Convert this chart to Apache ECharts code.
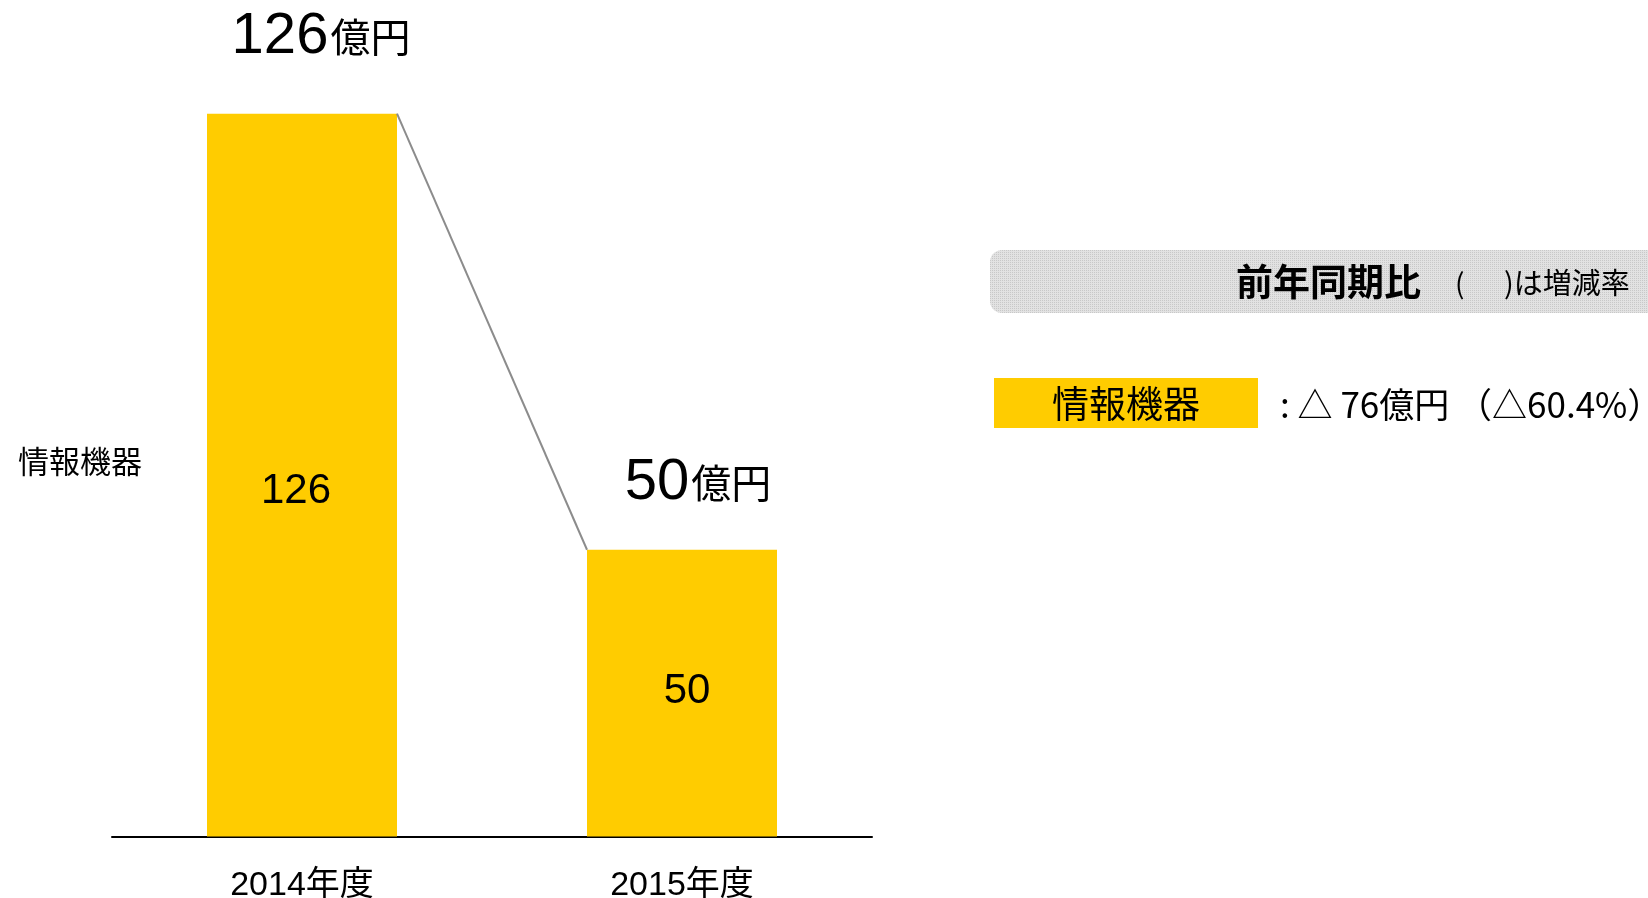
<!DOCTYPE html>
<html>
<head>
<meta charset="utf-8">
<script src="https://cdn.jsdelivr.net/npm/echarts@6/dist/echarts.min.js"></script>
<style>
html,body{margin:0;padding:0;background:#fff;}
#c{width:1648px;height:898px;}
</style>
</head>
<body>
<div id="c"></div>
<script>
// ---- data ----
var categories = ['2014年度', '2015年度'];
var values = [126, 50];
var unit = '億円';
var seriesName = '情報機器';
var headerTitle = '前年同期比';
var headerNoteOpen = '(';
var headerNoteClose = ')は増減率';
var changeAmount = 76;
var changeRate = 60.4;

var FONT = '"Liberation Sans","Noto Sans CJK JP",sans-serif';
var CJK = '"Noto Sans CJK JP",sans-serif';
var YELLOW = '#FFCC00';

// dotted pattern for header box
var pc = document.createElement('canvas');
pc.width = 4; pc.height = 4;
var pctx = pc.getContext('2d');
pctx.fillStyle = '#e2e2e2'; pctx.fillRect(0,0,4,4);
pctx.fillStyle = '#c8c8c8';
pctx.fillRect(0,0,1,1); pctx.fillRect(2,2,1,1); pctx.fillRect(2,0,1,1); pctx.fillRect(0,2,1,1);

var chart = echarts.init(document.getElementById('c'), null, {renderer:'canvas'});
var topDist = [48, 38];
var topOffset = [[19, 0], [16, 0]];
var inOffset = [[-6, 16], [5, -2]];

var option = {
  animation: false,
  grid: {left: 112, right: 776, top: 33.4, bottom: 61.4, containLabel: false, outerBoundsMode: 'none'},
  xAxis: {
    type: 'category',
    data: categories,
    axisLine: {show: true, lineStyle: {color: '#000', width: 2}},
    axisTick: {show: false},
    axisLabel: {color: '#000', fontSize: 34, fontFamily: FONT, margin: 32}
  },
  yAxis: {type: 'value', min: 0, max: 140, show: false, splitLine: {show: false}},
  series: [
    {
      type: 'bar',
      name: seriesName,
      data: values.map(function(v, i){ return {value: v, label: {offset: inOffset[i]}}; }),
      barWidth: '50%',
      barGap: '-100%',
      itemStyle: {color: YELLOW},
      label: {
        show: true, position: 'inside', color: '#000',
        fontSize: 42, fontFamily: FONT
      },
      z: 2
    },
    {
      type: 'bar',
      name: 'total',
      data: values.map(function(v, i){ return {value: v, label: {distance: topDist[i], offset: topOffset[i]}}; }),
      barWidth: '50%',
      barGap: '-100%',
      itemStyle: {color: 'rgba(0,0,0,0)'},
      label: {
        show: true, position: 'top',
        formatter: function(p){ return '{a|' + p.value + '}{b|' + unit + '}'; },
        rich: {
          a: {fontSize: 58, fontFamily: FONT, color: '#000', verticalAlign: 'bottom'},
          b: {fontSize: 40, fontFamily: CJK, color: '#000', verticalAlign: 'bottom', padding: [0,0,9,2]}
        }
      },
      z: 3
    },
    {
      type: 'custom',
      name: 'connector',
      data: [[0, values[0], 1, values[1]]],
      renderItem: function(params, api){
        var p0 = api.coord([api.value(0), api.value(1)]);
        var p1 = api.coord([api.value(2), api.value(3)]);
        var half = api.size([1, 0])[0] * 0.25;
        return {
          type: 'line',
          shape: {x1: p0[0] + half, y1: p0[1], x2: p1[0] - half, y2: p1[1]},
          style: {stroke: '#8c8c8c', lineWidth: 2}
        };
      },
      z: 4
    }
  ],
  graphic: [
    {type: 'text', left: 18, top: 446, style: {text: seriesName, fontSize: 31, fontFamily: CJK, fill: '#000'}},
    {type: 'rect', shape: {x: 990, y: 250, width: 720, height: 63, r: [12, 0, 0, 12]},
      style: {fill: {image: pc, repeat: 'repeat'}}},
    {type: 'text', x: 1236, y: 282, style: {text: headerTitle, fontSize: 37, fontWeight: 'bold', fontFamily: CJK, fill: '#000', verticalAlign: 'middle'}},
    {type: 'text', x: 1455, y: 283, style: {text: headerNoteOpen, fontSize: 28, fontFamily: CJK, fill: '#000', verticalAlign: 'middle'}},
    {type: 'text', x: 1504, y: 283, style: {text: headerNoteClose, fontSize: 29, fontFamily: CJK, fill: '#000', verticalAlign: 'middle'}},
    {type: 'rect', shape: {x: 994, y: 378, width: 264, height: 50}, style: {fill: YELLOW}},
    {type: 'text', x: 1126, y: 404, style: {text: seriesName, fontSize: 37, fontFamily: CJK, fill: '#000', align: 'center', verticalAlign: 'middle'}},
    {type: 'text', x: 1280, y: 405, style: {text: ': △ ' + changeAmount + unit + ' （△' + changeRate.toFixed(1) + '%）', fontSize: 35, fontFamily: CJK, fill: '#000', verticalAlign: 'middle'}}
  ]
};
chart.setOption(option);
</script>
</body>
</html>
